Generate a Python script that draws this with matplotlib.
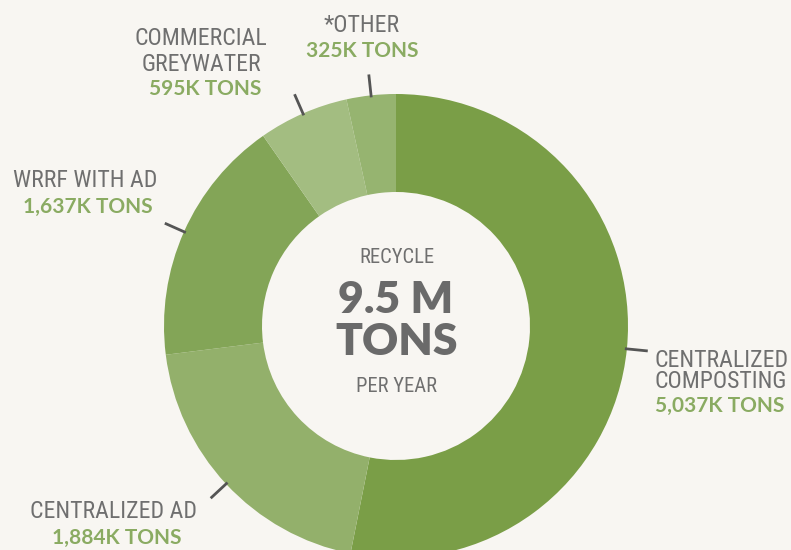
import matplotlib
matplotlib.use("Agg")
import matplotlib.pyplot as plt
from matplotlib import font_manager as fm
import numpy as np

# ---- data ----
categories = ["CENTRALIZED\nCOMPOSTING", "CENTRALIZED AD", "WRRF WITH AD",
              "COMMERCIAL\nGREYWATER", "*OTHER"]
values_k = [5037, 1884, 1637, 595, 325]
value_labels = ["5,037K TONS", "1,884K TONS", "1,637K TONS", "595K TONS", "325K TONS"]
center_lines = ["RECYCLE", "9.5 M", "TONS", "PER YEAR"]

# ---- style ----
bg = "#f8f6f2"
colors = ["#7a9e47", "#93b06b", "#83a557", "#a3bd81", "#96b470"]
gray = "#6f6f6f"
green = "#8aab62"
bold = ["Lato", "DejaVu Sans"]


def pick_narrow():
    """Find an installed condensed/narrow regular sans font file."""
    cands = []
    for f in fm.fontManager.ttflist:
        name = f.name.lower()
        path = f.fname.lower()
        w = f.weight if isinstance(f.weight, int) else 400
        if w not in (400, "normal", "regular"):
            continue
        if "italic" in path or f.style != "normal":
            continue
        narrowish = ("narrow" in name or "condensed" in name or "narrow" in path
                     or "condensed" in path or
                     f.stretch in ("condensed", "semi-condensed", 500, 400 - 100, 300, 375))
        if not narrowish:
            continue
        score = 0
        if "extra" in path or "ultra" in path:
            score -= 5
        if "semicondensed" in path or "semi-condensed" in name:
            score -= 1
        if "liberation" in path:
            score += 3
        if "roboto" in path:
            score += 2
        cands.append((score, f.fname))
    if cands:
        cands.sort(reverse=True)
        return fm.FontProperties(fname=cands[0][1])
    return fm.FontProperties(family="Liberation Sans")


narrow = pick_narrow()

W, H = 791, 550
fig = plt.figure(figsize=(W / 100, H / 100), dpi=100, facecolor=bg)
ax = fig.add_axes([0, 0, 1, 1])
ax.set_facecolor(bg)

# fit narrow label size so "CENTRALIZED" is ~132 px wide
renderer = fig.canvas.get_renderer()
probe = fig.text(0, 0, "CENTRALIZED", fontproperties=narrow, fontsize=10)
pw = probe.get_window_extent(renderer).width
probe.remove()
lab_size = min(18.0, 10 * 134 / pw)
small_size = lab_size * 0.86

cx, cy = 396, H - 326
R, ring = 232, 98

wedges, _ = ax.pie(values_k, colors=colors, startangle=90, counterclock=False,
                   center=(cx, cy), radius=R,
                   wedgeprops=dict(width=ring, linewidth=0))

# leader ticks at wedge mid-angles
for w in wedges:
    ang = np.deg2rad((w.theta1 + w.theta2) / 2)
    r0, r1 = R - 2, R + 21
    ax.plot([cx + r0 * np.cos(ang), cx + r1 * np.cos(ang)],
            [cy + r0 * np.sin(ang), cy + r1 * np.sin(ang)],
            color="#555555", lw=2, solid_capstyle="butt", zorder=3)

# label layout: (x, baselines of name lines, baseline of value, ha, value x)
layout = [
    (655, [367, 388], 412, "left", 655),
    (113, [518], 544, "center", 117),
    (85, [187], 213, "center", 88),
    (201, [45, 71], 95, "center", 205),
    (362, [32], 57, "center", 362),
]
for cat, val, (x, ys, yv, ha, xv) in zip(categories, value_labels, layout):
    for line, y in zip(cat.split("\n"), ys):
        ax.text(x, H - y, line, ha=ha, va="baseline", color=gray,
                fontproperties=narrow, fontsize=lab_size)
    ax.text(xv, H - yv, val, ha=ha, va="baseline", color=green,
            fontsize=15, family=bold, fontweight="bold")

# center text
ax.text(397, H - 263, center_lines[0], ha="center", va="baseline", color=gray,
        fontproperties=narrow, fontsize=small_size)
ax.text(396, H - 313, center_lines[1], ha="center", va="baseline", color="#6a6a6a",
        fontsize=32, family=bold, fontweight="heavy")
ax.text(397, H - 355, center_lines[2], ha="center", va="baseline", color="#6a6a6a",
        fontsize=32, family=bold, fontweight="heavy")
ax.text(396, H - 392, center_lines[3], ha="center", va="baseline", color=gray,
        fontproperties=narrow, fontsize=small_size)

ax.set_xlim(0, W)
ax.set_ylim(0, H)
ax.set_aspect("equal")
ax.axis("off")

fig.savefig("out.png", dpi=100, facecolor=bg)
